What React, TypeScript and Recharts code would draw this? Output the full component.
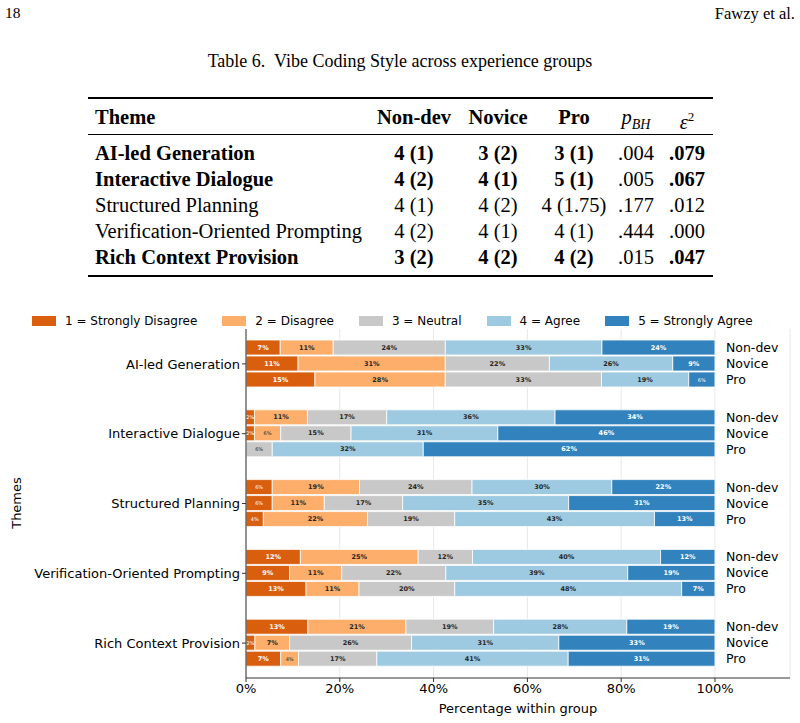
import { BarChart, Bar, XAxis, YAxis, CartesianGrid, LabelList } from "recharts";

const themes = [
  "AI-led Generation",
  "Interactive Dialogue",
  "Structured Planning",
  "Verification-Oriented Prompting",
  "Rich Context Provision",
];
const groups = ["Non-dev", "Novice", "Pro"];
const levels = [
  "1 = Strongly Disagree",
  "2 = Disagree",
  "3 = Neutral",
  "4 = Agree",
  "5 = Strongly Agree",
];
const levelColors = ["#d95f0e", "#fdae6b", "#c8c8c8", "#9ecae1", "#3182bd"];
const xTicks = [0, 20, 40, 60, 80, 100];

// share of each group answering 1..5, one row per theme
const nonDevPct = [
  [7.3, 11.3, 23.9, 33.4, 24.1],
  [1.8, 11.3, 16.9, 35.9, 34.1],
  [5.6, 18.6, 24.0, 29.8, 22.0],
  [11.6, 25.1, 11.6, 40.1, 11.6],
  [13.2, 20.9, 18.7, 28.4, 18.8],
];
const novicePct = [
  [11.1, 31.4, 22.2, 26.3, 9.0],
  [1.8, 5.6, 15.0, 31.3, 46.3],
  [5.6, 11.1, 16.7, 35.4, 31.2],
  [9.3, 11.1, 22.2, 38.8, 18.6],
  [1.9, 7.4, 26.0, 31.4, 33.3],
];
const proPct = [
  [14.7, 27.8, 33.3, 18.6, 5.6],
  [0, 0, 5.6, 32.2, 62.2],
  [3.7, 22.2, 18.6, 42.6, 12.9],
  [12.8, 11.3, 20.4, 48.4, 7.1],
  [7.4, 3.8, 16.7, 40.8, 31.3],
];

// Table 6 cells
const tableHeaders = ["Non-dev", "Novice", "Pro"];
const medNonDev = ["4 (1)", "4 (2)", "4 (1)", "4 (2)", "3 (2)"];
const medNovice = ["3 (2)", "4 (1)", "4 (2)", "4 (1)", "4 (2)"];
const medPro = ["3 (1)", "5 (1)", "4 (1.75)", "4 (1)", "4 (2)"];
const pBH = [".004", ".005", ".177", ".444", ".015"];
const epsSq = [".079", ".067", ".012", ".000", ".047"];
const significant = [true, true, false, false, true];

const pctByGroup = [nonDevPct, novicePct, proPct];

const data = themes.map((theme, i) => {
  const row: Record<string, string | number> = { theme };
  groups.forEach((g, gi) => {
    pctByGroup[gi][i].forEach((v, k) => {
      row[`${g}_${k}`] = v;
    });
  });
  return row;
});

const SANS = "DejaVu Sans";
const SERIF = "Liberation Serif";

function segmentLabel(props: any, level: number) {
  const vb = props.viewBox || props;
  const x = Number(props.x ?? vb.x);
  const y = Number(props.y ?? vb.y);
  const w = Number(props.width ?? vb.width);
  const h = Number(props.height ?? vb.height);
  const value = Number(props.value);
  if (!value || value <= 0) return null;
  const small = value < 7;
  const onDark = level === 0 || level === 4;
  return (
    <text
      x={x + w / 2}
      y={y + h / 2}
      textAnchor="middle"
      dominantBaseline="central"
      fontFamily={SANS}
      fontSize={small ? 5 : 6.5}
      fontWeight={small ? 400 : 700}
      fill={onDark ? "#ffffff" : "#262626"}
    >
      {Math.round(value)}%
    </text>
  );
}

function groupLabel(props: any, name: string) {
  const vb = props.viewBox || props;
  const x = Number(props.x ?? vb.x);
  const y = Number(props.y ?? vb.y);
  const w = Number(props.width ?? vb.width);
  const h = Number(props.height ?? vb.height);
  return (
    <text
      x={x + w + 11}
      y={y + h / 2}
      dominantBaseline="central"
      fontFamily={SANS}
      fontSize={12.5}
      fill="#000"
    >
      {name}
    </text>
  );
}

const colCenters = [414, 498, 574, 636, 687];
const rowCenters = [153, 179, 205, 231, 257];

function Cell({ x, y, text, bold, left }: { x: number; y: number; text: any; bold?: boolean; left?: boolean }) {
  return (
    <div
      style={{
        position: "absolute",
        left: x,
        top: y - 10,
        lineHeight: "20px",
        fontSize: 20.5,
        fontWeight: bold ? 700 : 400,
        transform: left ? undefined : "translateX(-50%)",
        whiteSpace: "nowrap",
      }}
    >
      {text}
    </div>
  );
}

function Table6() {
  return (
    <div style={{ fontFamily: SERIF, color: "#000" }}>
      <div style={{ position: "absolute", left: 5, top: 4, fontSize: 15.5 }}>18</div>
      <div style={{ position: "absolute", right: 5, top: 4, fontSize: 16.5 }}>Fawzy et al.</div>
      <div
        style={{
          position: "absolute",
          left: 0,
          width: 800,
          top: 51,
          textAlign: "center",
          fontSize: 18,
          whiteSpace: "pre",
        }}
      >
        {"Table 6.  Vibe Coding Style across experience groups"}
      </div>
      <div style={{ position: "absolute", left: 88, width: 625, top: 97, height: 2, background: "#000" }} />
      <div style={{ position: "absolute", left: 88, width: 625, top: 134, height: 1, background: "#000" }} />
      <div style={{ position: "absolute", left: 88, width: 625, top: 275, height: 2, background: "#000" }} />

      <Cell x={95} y={117} text="Theme" bold left />
      {tableHeaders.map((h, i) => (
        <Cell key={h} x={colCenters[i]} y={117} text={h} bold />
      ))}
      <Cell
        x={colCenters[3]}
        y={117}
        text={
          <span>
            <i>p</i>
            <sub style={{ fontSize: 14, fontStyle: "italic" }}>BH</sub>
          </span>
        }
      />
      <Cell
        x={colCenters[4]}
        y={117}
        text={
          <span>
            <i>ε</i>
            <sup style={{ fontSize: 13 }}>2</sup>
          </span>
        }
      />

      {themes.map((t, i) => {
        const cells = [medNonDev[i], medNovice[i], medPro[i], pBH[i], epsSq[i]];
        return (
          <div key={t}>
            <Cell x={95} y={rowCenters[i]} text={t} bold={significant[i]} left />
            {cells.map((c, j) => (
              <Cell
                key={j}
                x={colCenters[j]}
                y={rowCenters[i]}
                text={c}
                bold={significant[i] && j !== 3}
              />
            ))}
          </div>
        );
      })}
    </div>
  );
}

function LikertLegend() {
  return (
    <div
      style={{
        position: "absolute",
        left: 32,
        top: 313,
        display: "flex",
        alignItems: "center",
        gap: 25,
        fontFamily: SANS,
        fontSize: 12,
        lineHeight: "16px",
      }}
    >
      {levels.map((lvl, k) => (
        <div key={lvl} style={{ display: "flex", alignItems: "center" }}>
          <div style={{ width: 24, height: 10, background: levelColors[k], marginRight: 9 }} />
          <span>{lvl}</span>
        </div>
      ))}
    </div>
  );
}

export default function App() {
  const bars = groups.flatMap((g) =>
    levels.map((lvl, k) => (
      <Bar
        key={`${g}_${k}`}
        dataKey={`${g}_${k}`}
        name={lvl}
        stackId={g}
        fill={levelColors[k]}
        stroke="#ffffff"
        strokeWidth={0.8}
        isAnimationActive={false}
      >
        <LabelList dataKey={`${g}_${k}`} content={(p: any) => segmentLabel(p, k)} />
        {k === 4 && <LabelList dataKey={`${g}_${k}`} content={(p: any) => groupLabel(p, g)} />}
      </Bar>
    ))
  );

  return (
    <div style={{ position: "absolute", left: 0, top: 0, width: 800, height: 723, background: "#fff", overflow: "hidden" }}>
      <Table6 />
      <LikertLegend />
      <div style={{ position: "absolute", left: 0, top: 300 }}>
        <BarChart
          width={800}
          height={423}
          data={data}
          layout="vertical"
          margin={{ top: 29, right: 10, left: 0, bottom: 7 }}
          barSize={15}
          barGap={1}
        >
          <CartesianGrid horizontal={false} stroke="#e8e8e8" />
          <XAxis
            type="number"
            domain={[0, 116]}
            ticks={xTicks}
            tickFormatter={(v: number) => `${v}%`}
            tick={{ fontSize: 13, fill: "#000", fontFamily: SANS }}
            tickSize={4}
            axisLine={{ stroke: "#333" }}
            tickLine={{ stroke: "#333" }}
            height={38}
            allowDataOverflow
          />
          <YAxis
            type="category"
            dataKey="theme"
            width={246}
            tick={{ fontSize: 13, fill: "#000", fontFamily: SANS }}
            tickSize={4}
            tickMargin={2}
            axisLine={{ stroke: "#333" }}
            tickLine={{ stroke: "#333" }}
          />
          {bars}
        </BarChart>
      </div>
      <div
        style={{
          position: "absolute",
          left: 518,
          top: 701,
          transform: "translateX(-50%)",
          fontFamily: SANS,
          fontSize: 13,
          lineHeight: "16px",
          whiteSpace: "nowrap",
        }}
      >
        Percentage within group
      </div>
      <div
        style={{
          position: "absolute",
          left: 17,
          top: 503,
          transform: "translate(-50%, -50%) rotate(-90deg)",
          fontFamily: SANS,
          fontSize: 13,
          lineHeight: "16px",
          whiteSpace: "nowrap",
        }}
      >
        Themes
      </div>
    </div>
  );
}
